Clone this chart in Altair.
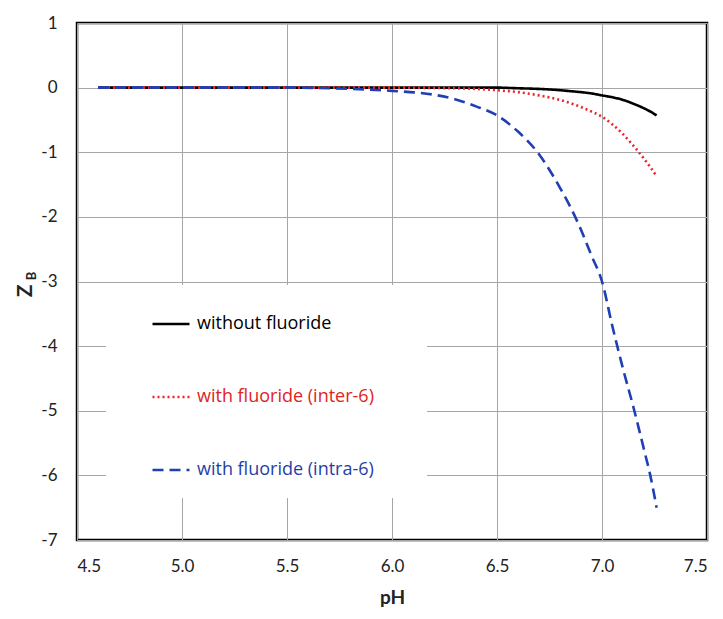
import altair as alt
import pandas as pd

ph = [4.6, 5.0, 5.5, 5.8, 6.0, 6.2, 6.3, 6.4, 6.5, 6.6, 6.7, 6.8, 6.85, 6.9,
      6.95, 7.0, 7.05, 7.1, 7.15, 7.2, 7.23, 7.26]
z_without = [0, 0, 0, 0, 0, 0, 0, 0, 0, -0.01, -0.02, -0.04, -0.055, -0.07,
             -0.09, -0.12, -0.15, -0.19, -0.25, -0.32, -0.37, -0.43]
z_inter = [0, 0, 0, 0, 0, -0.005, -0.01, -0.02, -0.04, -0.07, -0.12, -0.19, -0.24, -0.3,
           -0.37, -0.45, -0.57, -0.72, -0.9, -1.1, -1.23, -1.37]
z_intra = [0, 0, 0, -0.02, -0.05, -0.11, -0.18, -0.29, -0.43, -0.68, -1.03, -1.55, -1.85, -2.2,
           -2.6, -3.0, -3.7, -4.35, -4.95, -5.6, -6.0, -6.5]

series_names = ["without fluoride", "with fluoride (inter-6)", "with fluoride (intra-6)"]
series_colors = ["#000000", "#e8262b", "#1f3fb4"]
label_colors = ["#000000", "#e02424", "#1f3fa8"]
series_dash = [[1, 0], [2, 3], [11, 6]]

rows = []
for name, vals in zip(series_names, [z_without, z_inter, z_intra]):
    for x, y in zip(ph, vals):
        rows.append({"pH": x, "Z": y, "series": name})
df = pd.DataFrame(rows)

FONT = "Lato"
LFONT = "Open Sans"

label_expr = (
    f"datum.label == '{series_names[0]}' ? '{label_colors[0]}' : "
    f"(datum.label == '{series_names[1]}' ? '{label_colors[1]}' : '{label_colors[2]}')"
)

lines = alt.Chart(df).mark_line(strokeWidth=2.6, interpolate="monotone").encode(
    x=alt.X("pH:Q", scale=alt.Scale(domain=[4.5, 7.5], nice=False, zero=False),
            axis=alt.Axis(title="pH", values=[4.5, 5.0, 5.5, 6.0, 6.5, 7.0, 7.5], format=".1f",
                          grid=True, gridColor="#a6a6a6", gridWidth=1, domain=False, ticks=False,
                          labelPadding=18, labelFontSize=17, labelFont=FONT, labelColor="#222",
                          titleFontSize=19, titleFont=FONT, titleFontWeight="bold", titlePadding=14,
                          titleColor="#222")),
    y=alt.Y("Z:Q", scale=alt.Scale(domain=[-7, 1], nice=False),
            axis=alt.Axis(title=None, values=list(range(-7, 2)), grid=True, gridColor="#a6a6a6",
                          gridWidth=1, domain=False, ticks=False, labelPadding=20,
                          labelExpr="datum.value < 0 ? '-' + abs(datum.value) : '' + datum.value",
                          labelFontSize=17, labelFont=FONT, labelColor="#222")),
    color=alt.Color("series:N", scale=alt.Scale(domain=series_names, range=series_colors),
                    legend=alt.Legend(title="\u00a0\u00a0", titleOrient="right", titlePadding=34,
                                      titleFontSize=16,
                                      orient="none", legendX=29, legendY=262,
                                      fillColor="white", padding=19, symbolType="stroke",
                                      symbolSize=1369, symbolStrokeWidth=2.6, rowPadding=44,
                                      labelFontSize=18, labelFont=LFONT, labelOffset=6,
                                      labelLimit=400, symbolOffset=26,
                                      labelColor=alt.ExprRef(expr=label_expr))),
    strokeDash=alt.StrokeDash("series:N", scale=alt.Scale(domain=series_names, range=series_dash),
                              legend=None),
    detail="series:N",
)

zt = alt.Chart(pd.DataFrame({"t": ["Z"]})).mark_text(
    text="Z", angle=270, fontSize=21, fontWeight="bold", font=FONT, color="#222"
).encode(x=alt.value(-51), y=alt.value(268))
bt = alt.Chart(pd.DataFrame({"t": ["B"]})).mark_text(
    text="B", angle=270, fontSize=13, fontWeight="bold", font=FONT, color="#222"
).encode(x=alt.value(-45), y=alt.value(253))

chart = alt.layer(lines, zt, bt).properties(
    width=630, height=517,
    autosize=alt.AutoSizeParams(type="none"),
    padding={"left": 69, "top": 15, "right": 8, "bottom": 70},
).configure_view(stroke="#000000", strokeWidth=2.5)

chart.save("out.html", embed_options={"renderer": "svg", "actions": False})
